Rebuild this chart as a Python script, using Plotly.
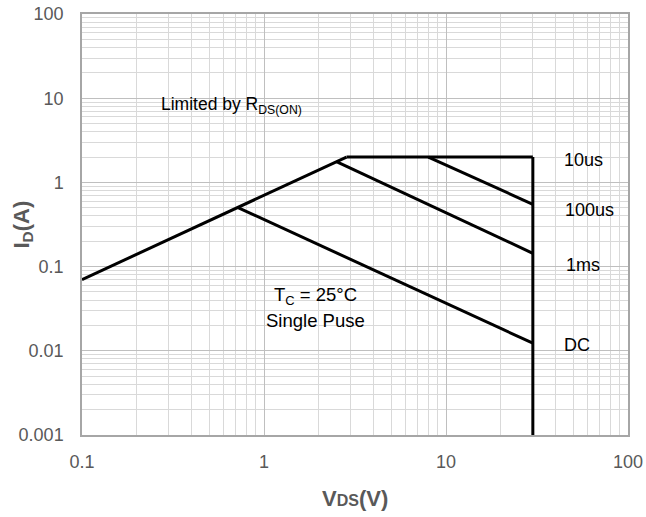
import math
import plotly.graph_objects as go

# Data (V_DS in V, I_D in A)
rds_v = [0.1, 2.84]
rds_i = [0.07, 2.0]
us10_v = [2.84, 30]
us10_i = [2.0, 2.0]
us100_v = [8.0, 30]
us100_i = [2.0, 0.55]
ms1_v = [2.5, 30]
ms1_i = [1.76, 0.144]
dc_v = [0.715, 30]
dc_i = [0.506, 0.0123]
vlim_v = [30, 30]
vlim_i = [2.0, 0.001]

labels = ["10us", "100us", "1ms", "DC"]
label_x = [43.3, 43.9, 44.5, 43.6]
label_y = [1.85, 0.47, 0.104, 0.0117]

x_ticks = [0.1, 1, 10, 100]
x_ticktext = ["0.1", "1", "10", "100"]
y_ticks = [0.001, 0.01, 0.1, 1, 10, 100]
y_ticktext = ["0.001", "0.01", "0.1", "1", "10", "100"]

fig = go.Figure()
line = dict(color="black", width=3)
for xs, ys in [(rds_v, rds_i), (us10_v, us10_i), (us100_v, us100_i),
               (ms1_v, ms1_i), (dc_v, dc_i), (vlim_v, vlim_i)]:
    fig.add_trace(go.Scatter(x=xs, y=ys, mode="lines", line=line,
                             showlegend=False, hoverinfo="skip"))

tickfont = dict(family="Liberation Sans, Arial", size=18, color="#595959")

common = dict(type="log", showgrid=True, gridcolor="#bfbfbf", gridwidth=1,
              minor=dict(dtick="D1", showgrid=True, gridcolor="#d9d9d9", gridwidth=1, ticks=""),
              showline=True, linecolor="#a6a6a6", linewidth=1.5, mirror=True,
              tickfont=tickfont, ticks="", zeroline=False, automargin=False)
fig.update_xaxes(range=[-1, 2], tickvals=x_ticks, ticktext=x_ticktext,
                 ticklabelstandoff=10, **common)
fig.update_yaxes(range=[-3, 2], tickvals=y_ticks, ticktext=y_ticktext,
                 ticklabelstandoff=13, **common)

L = math.log10
ann = []
for lab, xv, yv in zip(labels, label_x, label_y):
    ann.append(dict(x=L(xv), y=L(yv), xref="x", yref="y", text=lab, showarrow=False,
                    xanchor="left", yanchor="middle",
                    font=dict(family="Liberation Sans, Arial", size=18, color="black")))

ann.append(dict(x=L(0.266), y=L(8.3), xref="x", yref="y", text="Limited by R<sub>DS(ON)</sub>",
                showarrow=False, xanchor="left", yanchor="middle",
                font=dict(family="Liberation Sans, Arial", size=17.5, color="black")))
ann.append(dict(x=L(1.92), y=L(0.0448), xref="x", yref="y", text="T<sub>C</sub> = 25°C",
                showarrow=False, xanchor="center", yanchor="middle",
                font=dict(family="Liberation Sans, Arial", size=18.5, color="black")))
ann.append(dict(x=L(1.92), y=L(0.0232), xref="x", yref="y", text="Single Puse",
                showarrow=False, xanchor="center", yanchor="middle",
                font=dict(family="Liberation Sans, Arial", size=18.5, color="black")))

titlefont = dict(family="Liberation Sans, Arial", size=22, color="#595959")
ann.append(dict(x=0.5, y=0, xref="paper", yref="paper",
                text="<b>V<span style='font-size:16px'>DS</span>(V)</b>",
                showarrow=False, xanchor="center", yanchor="middle", yshift=-63, font=titlefont))
ann.append(dict(x=0, y=0.5, xref="paper", yref="paper",
                text="<b>I<sub>D</sub>(A)</b>", textangle=-90,
                showarrow=False, xanchor="center", yanchor="middle", xshift=-60, font=titlefont))

fig.update_layout(width=646, height=517, margin=dict(l=82, r=18, t=14, b=82),
                  plot_bgcolor="white", paper_bgcolor="white", annotations=ann)
fig.write_html("out.html")
